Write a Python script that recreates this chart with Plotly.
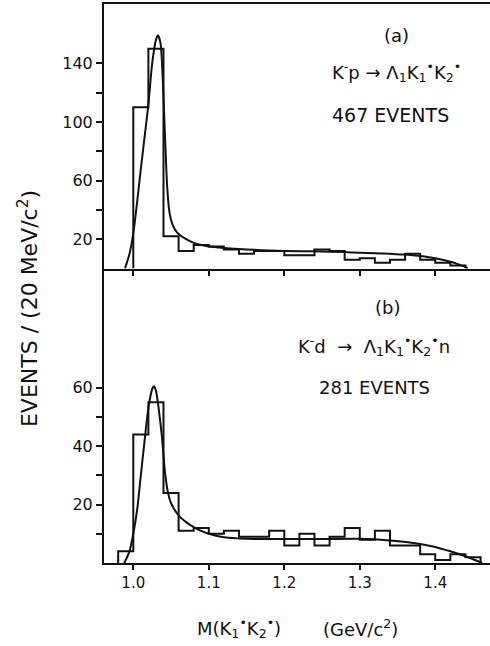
import numpy as np
import plotly.graph_objects as go

# ---- data -------------------------------------------------------------
bin_width = 0.02

# (a) K-p -> Lambda K1 K2 : histogram starting at 1.00 GeV
a_start = 1.00
a_counts = [110, 150, 22, 12, 16, 15, 13, 10, 12, 12, 9, 9,
            13, 12, 6, 7, 4, 6, 10, 6, 4, 2]
a_fit_x = [0.989, 0.995, 1.000, 1.005, 1.010, 1.015, 1.020, 1.025, 1.030,
           1.0327, 1.036, 1.039, 1.042, 1.045, 1.048, 1.052, 1.056, 1.060,
           1.070, 1.080, 1.090, 1.100, 1.120, 1.140, 1.160, 1.180, 1.200,
           1.240, 1.280, 1.300, 1.340, 1.360, 1.380, 1.400, 1.420, 1.430,
           1.440, 1.443]
a_fit_y = [0, 10, 24, 45, 68, 90, 112, 140, 156,
           159, 154, 130, 90, 55, 38, 30, 26, 23.5,
           20, 17.5, 16, 15, 14, 13.3, 12.8, 12.3, 12,
           11.7, 11.2, 10.8, 10, 9.5, 8.5, 7, 4.6, 3,
           1, 0]

# (b) K-d -> Lambda K1 K2 n : histogram starting at 0.98 GeV
b_start = 0.98
b_counts = [4, 44, 55, 24, 11, 12, 10, 11, 9, 9, 11, 6,
            10, 6, 9, 12, 8, 11, 6, 6, 3, 1, 3, 2]
b_fit_x = [0.988, 0.995, 1.000, 1.005, 1.010, 1.015, 1.020, 1.025, 1.027,
           1.030, 1.034, 1.038, 1.042, 1.046, 1.050, 1.060, 1.070, 1.080,
           1.090, 1.100, 1.120, 1.140, 1.160, 1.200, 1.250, 1.300, 1.340,
           1.380, 1.400, 1.420, 1.440, 1.462]
b_fit_y = [0, 4, 10, 18, 30, 42, 53, 59.5, 60.5,
           59, 52, 43, 31, 24, 20.5, 16.3, 14, 12.3,
           11, 10, 8.8, 8.4, 8.2, 8.2, 8.2, 8.3, 7.7,
           6.5, 5.5, 4, 2.3, 0]

x_tick_vals = [1.0, 1.1, 1.2, 1.3, 1.4]
x_tick_text = ["1.0", "1.1", "1.2", "1.3", "1.4"]
a_ytick_vals = [20, 40, 60, 80, 100, 120, 140]
a_ytick_text = ["20", "", "60", "", "100", "", "140"]
b_ytick_vals = [10, 20, 30, 40, 50, 60]
b_ytick_text = ["", "20", "", "40", "", "60"]


def step_outline(start, counts):
    """Closed histogram outline points for an 'hv' line."""
    edges = [start + bin_width * i for i in range(len(counts) + 1)]
    xs = [edges[0]] + edges[:-1] + [edges[-1]]
    ys = [0] + list(counts) + [0]
    return xs, ys


INK = "#111111"
FONT = "DejaVu Sans"

fig = go.Figure()

ax, ay = step_outline(a_start, a_counts)
fig.add_trace(go.Scatter(x=ax, y=ay, mode="lines", line=dict(shape="hv", color=INK, width=2),
                         xaxis="x", yaxis="y", hoverinfo="skip"))
fig.add_trace(go.Scatter(x=a_fit_x, y=a_fit_y, mode="lines",
                         line=dict(shape="spline", smoothing=0.7, color=INK, width=2),
                         xaxis="x", yaxis="y", hoverinfo="skip"))

bx, by = step_outline(b_start, b_counts)
fig.add_trace(go.Scatter(x=bx, y=by, mode="lines", line=dict(shape="hv", color=INK, width=2),
                         xaxis="x2", yaxis="y2", hoverinfo="skip"))
fig.add_trace(go.Scatter(x=b_fit_x, y=b_fit_y, mode="lines",
                         line=dict(shape="spline", smoothing=0.7, color=INK, width=2),
                         xaxis="x2", yaxis="y2", hoverinfo="skip"))

x_range = [0.9612, 1.4725]
split = 0.5268

common_x = dict(range=x_range, showgrid=False, zeroline=False, showline=True,
                linecolor=INK, linewidth=2, ticks="outside", ticklen=5,
                tickwidth=1.5, tickcolor=INK, tickvals=x_tick_vals)
common_y = dict(showgrid=False, zeroline=False, showline=True, linecolor=INK,
                linewidth=2, ticks="outside", ticklen=6, tickwidth=1.5,
                tickcolor=INK, tickfont=dict(family=FONT, size=16, color=INK))

fig.update_layout(
    width=490, height=646,
    margin=dict(l=104, r=0, t=4, b=83),
    paper_bgcolor="white", plot_bgcolor="white",
    showlegend=False,
    xaxis=dict(common_x, domain=[0, 1], anchor="y", mirror=True, showticklabels=False),
    yaxis=dict(common_y, domain=[split, 1], anchor="x", range=[0, 180.5],
               tickvals=a_ytick_vals, ticktext=a_ytick_text),
    xaxis2=dict(common_x, domain=[0, 1], anchor="y2", matches="x",
                ticktext=x_tick_text,
                tickfont=dict(family=FONT, size=15, color=INK)),
    yaxis2=dict(common_y, domain=[0, split], anchor="x2", range=[0, 100.8],
                tickvals=b_ytick_vals, ticktext=b_ytick_text),
)

txt = dict(family=FONT, size=18, color=INK)
notes = [
    # panel (a)
    dict(x=1.348, y=159.3, xref="x", yref="y", text="(a)"),
    dict(x=1.348, y=134.0, xref="x", yref="y",
         text="K<sup>-</sup>p → Λ<sub>1</sub>K<sub>1</sub><sup>•</sup>K<sub>2</sub><sup>•</sup>"),
    dict(x=1.341, y=104.7, xref="x", yref="y", text="467 EVENTS",
         font=dict(family=FONT, size=19, color=INK)),
    # panel (b)
    dict(x=1.337, y=87.3, xref="x2", yref="y2", text="(b)"),
    dict(x=1.319, y=74.3, xref="x2", yref="y2",
         text="K<sup>-</sup>d \u00a0→\u00a0 Λ<sub>1</sub>K<sub>1</sub><sup>•</sup>K<sub>2</sub><sup>•</sup>n"),
    dict(x=1.320, y=60.2, xref="x2", yref="y2", text="281 EVENTS"),
    # axis titles
    dict(x=0.3497, y=-0.1163, xref="paper", yref="paper",
         text="M(K<sub>1</sub><sup>•</sup>K<sub>2</sub><sup>•</sup>)"),
    dict(x=0.6658, y=-0.1163, xref="paper", yref="paper", text="(GeV/c<sup>2</sup>)"),
    dict(x=-0.197, y=0.456, xref="paper", yref="paper", textangle=-90,
         text="EVENTS / (20 MeV/c<sup>2</sup>)", font=dict(family=FONT, size=22, color=INK)),
]
for n in notes:
    n.setdefault("font", txt)
    fig.add_annotation(showarrow=False, xanchor="center", yanchor="middle", **n)

fig.write_html("out.html")
